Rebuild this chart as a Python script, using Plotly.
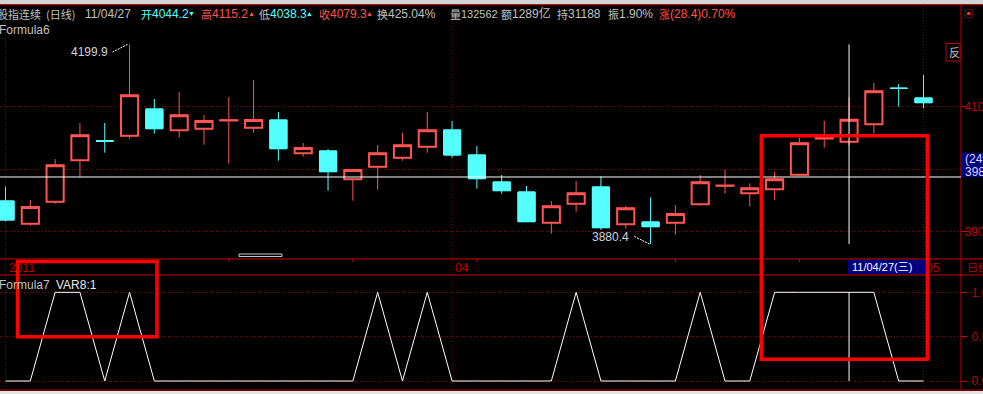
import plotly.graph_objects as go

W, H = 983, 394


def px(x):
    return x / W


def py(y):
    return 1 - y / H


# ---------------- data ----------------
idx = list(range(38))
opens = [3949.3, 3913.0, 3948.2, 4014.4, 4045.5, 4053.8, 4096.5, 4062.4, 4065.0, 4078.2,
         4066.6, 4078.9, 4025.6, 4029.3, 3984.0, 4004.2, 4018.6, 4036.2, 4062.9, 4022.9,
         3979.7, 3963.7, 3914.6, 3945.0, 3971.7, 3912.0, 3915.7, 3914.6, 3944.0, 3973.5,
         3961.6, 3968.0, 3991.4, 4049.2, 4044.2, 4072.0, 4129.8, 4114.1]
highs = [3972.2, 3950.9, 4016.5, 4074.1, 4074.1, 4199.9, 4112.5, 4123.7, 4086.9, 4115.7,
         4142.9, 4091.7, 4042.1, 4032.5, 4000.5, 4038.9, 4058.1, 4091.7, 4077.3, 4037.3,
         3990.9, 3973.3, 3949.3, 3981.3, 3988.8, 3941.3, 3955.2, 3942.9, 3990.9, 3998.9,
         3977.6, 3995.7, 4050.1, 4077.3, 4115.2, 4138.1, 4136.5, 4150.9]
lows = [3917.0, 3909.8, 3945.0, 3987.7, 4026.6, 4049.0, 4057.0, 4050.6, 4039.4, 4009.0,
        4058.6, 4013.8, 4020.2, 3965.8, 3949.8, 3967.4, 4013.8, 4026.6, 4018.6, 3969.0,
        3961.0, 3916.0, 3897.0, 3932.2, 3902.9, 3905.0, 3880.4, 3895.4, 3941.8, 3961.0,
        3940.2, 3951.4, 3989.8, 4034.6, 4038.3, 4057.0, 4100.2, 4097.6]
closes = [3918.9, 3939.7, 4006.4, 4054.4, 4045.0, 4118.4, 4065.0, 4086.4, 4077.3, 4078.6,
          4078.9, 4033.0, 4034.1, 3996.2, 3998.9, 4025.6, 4038.4, 4062.4, 4022.9, 3985.0,
          3965.8, 3916.2, 3940.8, 3961.6, 3906.6, 3937.6, 3908.2, 3928.5, 3979.2, 3974.0,
          3969.6, 3984.0, 4041.6, 4050.9, 4079.3, 4124.8, 4129.4, 4106.6]
var8 = [0, 0, 1, 1, 0, 1, 0, 0, 0, 0, 0, 0, 0, 0, 0, 1, 0, 1, 0, 0,
        0, 0, 0, 1, 0, 0, 0, 0, 1, 0, 0, 1, 1, 1, 1, 1, 0, 0]

month_ticks = [0, 18, 37]
month_labels = ["2011", "04", "05"]
week_ticks = [9, 14, 19, 27, 32]
price_ticks = [3900, 4000, 4100]
price_labels = ["3900.0", "", "4100.0"]   # 4000 label is hidden under the cursor box
var_ticks = [0, 0.5, 1]
var_labels = ["0.00", "0.50", "1.00"]

cursor_index = 34
cursor_price = 3987.7
cursor_date = "11/04/27(三)"
cursor_side = ["(2490)", "3987.7"]

# header: (label, label colour, value, value colour, arrow, x of label, value font size)
header = [
    ("开", "#54FFFF", "4044.2", "#54FFFF", "▼", 139, 12),
    ("高", "#FF5454", "4115.2", "#FF5454", "▲", 199, 12),
    ("低", "#C0C0C0", "4038.3", "#54FFFF", "▲", 257, 12),
    ("收", "#FF5454", "4079.3", "#FF5454", "▲", 317, 12),
    ("换", "#C0C0C0", "425.04%", "#C0C0C0", "", 375, 12),
    ("量", "#C0C0C0", "132562", "#C0C0C0", "", 448, 11),
    ("额", "#C0C0C0", "1289亿", "#C0C0C0", "", 499, 12),
    ("持", "#C0C0C0", "31188", "#C0C0C0", "", 555, 12),
    ("振", "#C0C0C0", "1.90%", "#C0C0C0", "", 606, 12),
    ("涨", "#FF5454", "(28.4)0.70%", "#FF5454", "", 657, 12),
]

# ---------------- style ----------------
UP = "#FF5454"
DN = "#54FFFF"
GRID = "#8B0000"
AXR = "#CC0000"
TXR = "#C00000"
FONT = "Liberation Sans, Noto Sans CJK SC, sans-serif"
CJK = "Noto Sans CJK SC, sans-serif"
x_lo, x_hi = -0.2217, 38.512
dom_x = [0, 961 / W]

fig = go.Figure()

fig.add_trace(go.Candlestick(
    x=idx, open=opens, high=highs, low=lows, close=closes,
    increasing=dict(line=dict(color=UP, width=1), fillcolor="#000000"),
    decreasing=dict(line=dict(color=DN, width=1), fillcolor=DN),
    xaxis="x", yaxis="y", hoverinfo="skip", showlegend=False,
))
body_hi = [max(o, c) for o, c in zip(opens, closes)]
body_lo = [min(o, c) for o, c in zip(opens, closes)]
fig.add_trace(go.Candlestick(
    x=idx, open=opens, high=body_hi, low=body_lo, close=closes,
    increasing=dict(line=dict(color=UP, width=2), fillcolor="#000000"),
    decreasing=dict(line=dict(color=DN, width=1), fillcolor=DN),
    xaxis="x", yaxis="y", hoverinfo="skip", showlegend=False,
))
fig.add_trace(go.Scatter(
    x=idx, y=var8, mode="lines", line=dict(color="#FFFFFF", width=1),
    xaxis="x2", yaxis="y2", hoverinfo="skip", showlegend=False,
))

shapes = []
# light frame strips
shapes.append(dict(type="rect", xref="paper", yref="paper", x0=0, x1=1, y0=py(0), y1=py(4),
                   fillcolor="#D4D4D4", line=dict(width=0), layer="above"))
shapes.append(dict(type="rect", xref="paper", yref="paper", x0=0, x1=1, y0=py(391), y1=0,
                   fillcolor="#E4E4E4", line=dict(width=0), layer="above"))
# month grid verticals
for m in month_ticks:
    shapes.append(dict(type="line", xref="x", yref="paper", x0=m, x1=m, y0=py(390), y1=py(5),
                       line=dict(color=GRID, width=1, dash="1px,2px"), layer="below"))
# week ticks on date strip
for wk in week_ticks:
    shapes.append(dict(type="line", xref="x", yref="paper", x0=wk, x1=wk, y0=py(259), y1=py(262),
                       line=dict(color=AXR, width=1)))
# frame lines
for yy in (4.5, 259, 275, 390):
    shapes.append(dict(type="line", xref="paper", yref="paper", x0=0, x1=1, y0=py(yy), y1=py(yy),
                       line=dict(color=AXR, width=1)))
shapes.append(dict(type="line", xref="paper", yref="paper", x0=px(961), x1=px(961), y0=py(390), y1=py(5),
                   line=dict(color=AXR, width=1)))
# cursor crosshair
shapes.append(dict(type="line", xref="x domain", yref="y", x0=0, x1=1, y0=cursor_price, y1=cursor_price,
                   line=dict(color="#FFFFFF", width=1)))
shapes.append(dict(type="line", xref="x", yref="y", x0=cursor_index, x1=cursor_index,
                   y0=min(lows), y1=max(highs), line=dict(color="#FFFFFF", width=1)))
shapes.append(dict(type="line", xref="x2", yref="y2", x0=cursor_index, x1=cursor_index,
                   y0=0, y1=1, line=dict(color="#FFFFFF", width=1)))
# high / low leader lines
imax = highs.index(max(highs))
imin = lows.index(min(lows))
shapes.append(dict(type="line", xref="x", yref="y", xsizemode="pixel", ysizemode="pixel",
                   xanchor=imax, yanchor=max(highs), x0=-2, x1=-17, y0=0, y1=-7.7,
                   line=dict(color="#FFFFFF", width=1, dash="2px,1px")))
shapes.append(dict(type="line", xref="x", yref="y", xsizemode="pixel", ysizemode="pixel",
                   xanchor=imin, yanchor=min(lows), x0=-1, x1=-17, y0=0, y1=8,
                   line=dict(color="#FFFFFF", width=1, dash="2px,1px")))
# scroll indicator
shapes.append(dict(type="rect", xref="paper", yref="paper", x0=px(239), x1=px(282), y0=py(256.5), y1=py(254),
                   fillcolor="#000000", line=dict(color="#C8C8C8", width=1)))
# highlight rectangles
shapes.append(dict(type="rect", xref="paper", yref="paper", x0=px(17.5), x1=px(157), y0=py(336.8), y1=py(261.5),
                   line=dict(color="#FF0000", width=3.5), fillcolor="rgba(0,0,0,0)", layer="above"))
shapes.append(dict(type="rect", xref="paper", yref="paper", x0=px(761.3), x1=px(927.3), y0=py(359.2), y1=py(135.7),
                   line=dict(color="#FF0000", width=3.5), fillcolor="rgba(0,0,0,0)", layer="above"))
# 反 box
shapes.append(dict(type="rect", xref="paper", yref="paper", x0=px(946), x1=px(960), y0=py(61), y1=py(43.5),
                   fillcolor="#000000", line=dict(color=TXR, width=1)))
# cursor value box on right axis
shapes.append(dict(type="rect", xref="paper", yref="paper", x0=px(962), x1=1.01, y0=py(177), y1=py(153),
                   fillcolor="#000080", line=dict(width=0), layer="above"))
# cursor date box
shapes.append(dict(type="rect", xref="paper", yref="paper", x0=px(848), x1=px(925), y0=py(274), y1=py(260),
                   fillcolor="#000080", line=dict(width=0), layer="above"))

ann = []


def txt(t, x, y, color, size=12, family=FONT, xanchor="left"):
    ann.append(dict(text=t, xref="paper", yref="paper", x=px(x), y=py(y), xanchor=xanchor, yanchor="middle",
                    showarrow=False, font=dict(family=family, size=size, color=color)))


txt("股指连续", -5, 14, "#C0C0C0", 11, CJK)
txt("(日线)", 44, 14, "#C0C0C0", 11, CJK)
txt("11/04/27", 83, 14, "#C0C0C0")
for lab, lc, val, vc, arrow, x, vs in header:
    txt(lab, x, 14, lc, 11, CJK)
    txt(val, x + 11, 14, vc, vs)
    if arrow:
        vw = sum(3.3 if ch in ".()" else 6.4 for ch in val)
        txt(arrow, x + 11 + vw + 1, 14, vc, 7)
txt("Formula6", -3, 30, "#C0C0C0")
txt("Formula7", -3, 285, "#C0C0C0")
txt("VAR8:1", 54, 285, "#E8E8E8")
txt("反", 947, 52, "#C0C0C0", 11, CJK)
txt("日线", 965, 267, TXR, 11, CJK)
txt("▣", 962, 14, "#FF3030", 9)
for m, lab in zip(month_ticks, month_labels):
    ann.append(dict(text=lab, xref="x", yref="paper", x=m, y=py(267.5), xanchor="left", yanchor="middle",
                    xshift=1, showarrow=False, font=dict(family=FONT, size=12, color=TXR)))
txt(cursor_date, 850, 267, "#FFFFFF", 11)
txt(cursor_side[0], 963, 159, "#D8D8FF", 12)
txt(cursor_side[1], 963, 172, "#D8D8FF", 12)
# high / low labels
ann.append(dict(text=f"{max(highs):.1f}", xref="x", yref="y", x=imax, y=max(highs), xanchor="right",
                yanchor="middle", xshift=-20, yshift=-8, showarrow=False,
                font=dict(family=FONT, size=12, color="#D0D4E0")))
ann.append(dict(text=f"{min(lows):.1f}", xref="x", yref="y", x=imin, y=min(lows), xanchor="right",
                yanchor="middle", xshift=-20, yshift=7.5, showarrow=False,
                font=dict(family=FONT, size=12, color="#D0D4E0")))

axis_common = dict(showline=False, zeroline=False, fixedrange=True, automargin=False)
fig.update_layout(
    width=W, height=H, margin=dict(l=0, r=0, t=0, b=0, pad=0, autoexpand=False),
    paper_bgcolor="#000000", plot_bgcolor="#000000",
    showlegend=False, hovermode=False, boxgap=0.31, boxgroupgap=0,
    xaxis=dict(domain=dom_x, range=[x_lo, x_hi], anchor="y", showgrid=False, showticklabels=False,
               rangeslider=dict(visible=False), **axis_common),
    yaxis=dict(domain=[py(259), py(5)], range=[3856.48, 4262.88], anchor="x", side="right",
               tickvals=price_ticks, ticktext=price_labels, ticks="outside", ticklen=5, tickcolor=AXR,
               ticklabelstandoff=-5, tickfont=dict(family=FONT, size=12, color=TXR),
               showgrid=True, gridcolor=GRID, gridwidth=1, griddash="1px,2px", **axis_common),
    xaxis2=dict(domain=dom_x, range=[x_lo, x_hi], anchor="y2", showgrid=False, showticklabels=False,
                **axis_common),
    yaxis2=dict(domain=[py(390), py(275)], range=[-0.1015, 1.195], anchor="x2", side="right",
                tickvals=var_ticks, ticktext=var_labels, ticks="outside", ticklen=5, tickcolor=AXR,
                ticklabelstandoff=2, tickfont=dict(family=FONT, size=12, color=TXR),
                showgrid=True, gridcolor=GRID, gridwidth=1, griddash="1px,2px", **axis_common),
    shapes=shapes, annotations=ann,
)

fig.write_html("out.html", config={"displayModeBar": False},
               post_script="document.body.style.margin='0';document.body.style.overflow='hidden';")
